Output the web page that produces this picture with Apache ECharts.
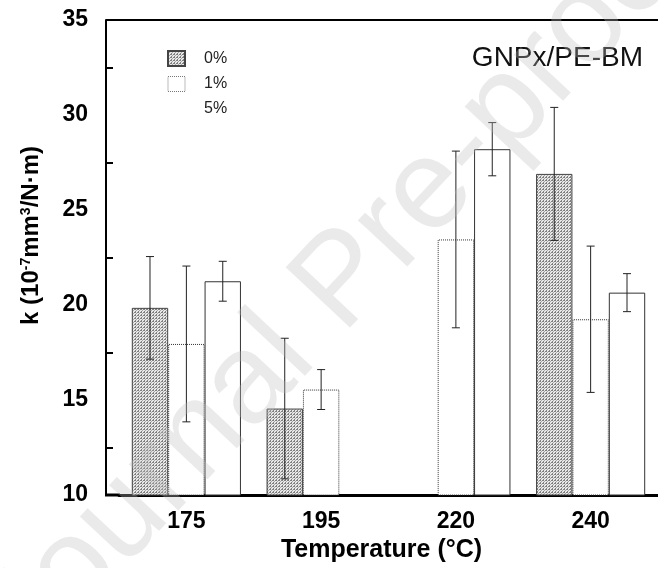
<!DOCTYPE html>
<html>
<head>
<meta charset="utf-8">
<script src="https://cdn.jsdelivr.net/npm/echarts@6/dist/echarts.min.js"></script>
<style>
  html, body { margin: 0; padding: 0; background: #fff; }
  #chart { width: 658px; height: 568px; }
</style>
</head>
<body>
<div id="chart"></div>
<script>
const categories = ['175', '195', '220', '240']
const seriesNames = ['0%', '1%', '5%']
// wear rate k, 10^-7 mm^3/N·m
const k0 = [19.85, 14.55, null, 26.9]
const k1 = [17.95, 15.55, 23.45, 19.25]
const k5 = [21.25, null, 28.2, 20.65]
// error bar half widths
const e0 = [2.7, 3.7, null, 3.5]
const e1 = [4.1, 1.05, 4.65, 3.85]
const e5 = [1.05, null, 1.4, 1.0]
const yTicks = [10, 15, 20, 25, 30, 35]

const font = 'Liberation Sans, Arial, sans-serif'
const catGap = 0.19

function hatch() {
  const c = document.createElement('canvas')
  c.width = 3
  c.height = 3
  const g = c.getContext('2d')
  g.fillStyle = '#e8e8e8'
  g.fillRect(0, 0, 3, 3)
  g.fillStyle = '#808080'
  g.fillRect(0, 0, 1, 1)
  g.fillRect(2, 0, 1, 1)
  g.fillRect(0, 2, 1, 1)
  g.fillStyle = '#a8a8a8'
  g.fillRect(1, 1, 1, 1)
  return c
}

function errData(vals, errs) {
  return vals.map((v, i) => (v == null ? [i, null, null] : [i, v - errs[i], v + errs[i]]))
}

function errSeries(vals, errs, slot) {
  return {
    type: 'custom',
    z: 5,
    silent: true,
    data: errData(vals, errs),
    renderItem(params, api) {
      if (api.value(1) == null || isNaN(api.value(1))) return null
      const band = api.size([1, 0])[0]
      const barW = band * (1 - catGap) / 3
      const lo = api.coord([api.value(0), api.value(1)])
      const hi = api.coord([api.value(0), api.value(2)])
      const x = lo[0] + (slot - 1) * barW
      const cap = 4
      const style = { stroke: '#222', lineWidth: 1 }
      return {
        type: 'group',
        children: [
          { type: 'line', shape: { x1: x, y1: lo[1], x2: x, y2: hi[1] }, style },
          { type: 'line', shape: { x1: x - cap, y1: lo[1], x2: x + cap, y2: lo[1] }, style },
          { type: 'line', shape: { x1: x - cap, y1: hi[1], x2: x + cap, y2: hi[1] }, style }
        ]
      }
    }
  }
}

const chart = echarts.init(document.getElementById('chart'))
chart.setOption({
  animation: false,
  backgroundColor: '#fff',
  textStyle: { fontFamily: font },
  grid: { left: 119, right: -9, top: 20, bottom: 73 },
  legend: {
    orient: 'vertical',
    left: 162,
    top: 45,
    icon: 'rect',
    itemWidth: 17,
    itemHeight: 15,
    itemGap: 9,
    textStyle: { fontSize: 16, color: '#222', padding: [0, 0, 0, 14] },
    data: [
      { name: '0%' },
      { name: '1%', itemStyle: { color: '#fff', borderColor: '#777', borderType: 'dotted', borderWidth: 1 } },
      { name: '5%', itemStyle: { color: '#fff', borderWidth: 0 } }
    ]
  },
  xAxis: {
    type: 'category',
    data: categories,
    axisLine: { lineStyle: { color: '#000', width: 3 } },
    axisTick: { show: false },
    axisLabel: { fontSize: 23, fontWeight: 'bold', color: '#000', margin: 15 },
    name: 'Temperature (°C)',
    nameLocation: 'middle',
    nameGap: 43,
    nameTextStyle: { fontSize: 25, fontWeight: 'bold', color: '#000', padding: [0, 14, 0, 0] }
  },
  yAxis: {
    type: 'value',
    min: 10,
    max: 35,
    interval: 5,
    offset: 13,
    axisLine: { show: true, lineStyle: { color: '#000', width: 2 } },
    axisTick: { inside: true, length: 12, lineStyle: { color: '#000', width: 2 } },
    minorTick: { show: true, splitNumber: 2, length: 7, lineStyle: { color: '#000', width: 2 } },
    splitLine: { show: false },
    axisLabel: { fontSize: 23, fontWeight: 'bold', color: '#000', margin: 18,
      formatter: (v) => (yTicks.includes(v) ? String(v) : '') },
    name: 'k (10{sup|-7}mm{sup|3}/N·m)',
    nameLocation: 'middle',
    nameGap: 62,
    nameTextStyle: {
      fontSize: 24, fontWeight: 'bold', color: '#000', padding: [0, 0, 0, 44],
      rich: { sup: { fontSize: 14, fontWeight: 'bold', color: '#000', verticalAlign: 'top', padding: [0, 0, 11, 0] } }
    }
  },
  graphic: [
    { type: 'line', z: 10, shape: { x1: 106, y1: 20, x2: 660, y2: 20 }, style: { stroke: '#000', lineWidth: 2 } },
    { type: 'line', z: 10, shape: { x1: 105, y1: 495, x2: 120, y2: 495 }, style: { stroke: '#000', lineWidth: 3 } },
    { type: 'text', z: 10, right: 15, top: 44,
      style: { text: 'GNPx/PE-BM', font: '28px ' + font, fill: '#111' } },
    { type: 'text', z: 100, silent: true, x: 52, y: 687, rotation: 0.817,
      style: { text: 'Journal Pre-proof', font: '128px ' + font, fill: 'rgba(190,190,190,0.32)',
        align: 'left', verticalAlign: 'bottom' } }
  ],
  series: [
    { name: seriesNames[0], type: 'bar', data: k0, barGap: '0%', barCategoryGap: '19%',
      itemStyle: { color: { image: hatch(), repeat: 'repeat' }, borderColor: '#444', borderWidth: 1 } },
    { name: seriesNames[1], type: 'bar', data: k1, barGap: '0%', barCategoryGap: '19%',
      itemStyle: { color: '#fff', borderColor: '#333', borderWidth: 1, borderType: 'dotted' } },
    { name: seriesNames[2], type: 'bar', data: k5, barGap: '0%', barCategoryGap: '19%',
      itemStyle: { color: '#fff', borderColor: '#333', borderWidth: 1 } },
    errSeries(k0, e0, 0),
    errSeries(k1, e1, 1),
    errSeries(k5, e5, 2)
  ]
})
</script>
</body>
</html>
